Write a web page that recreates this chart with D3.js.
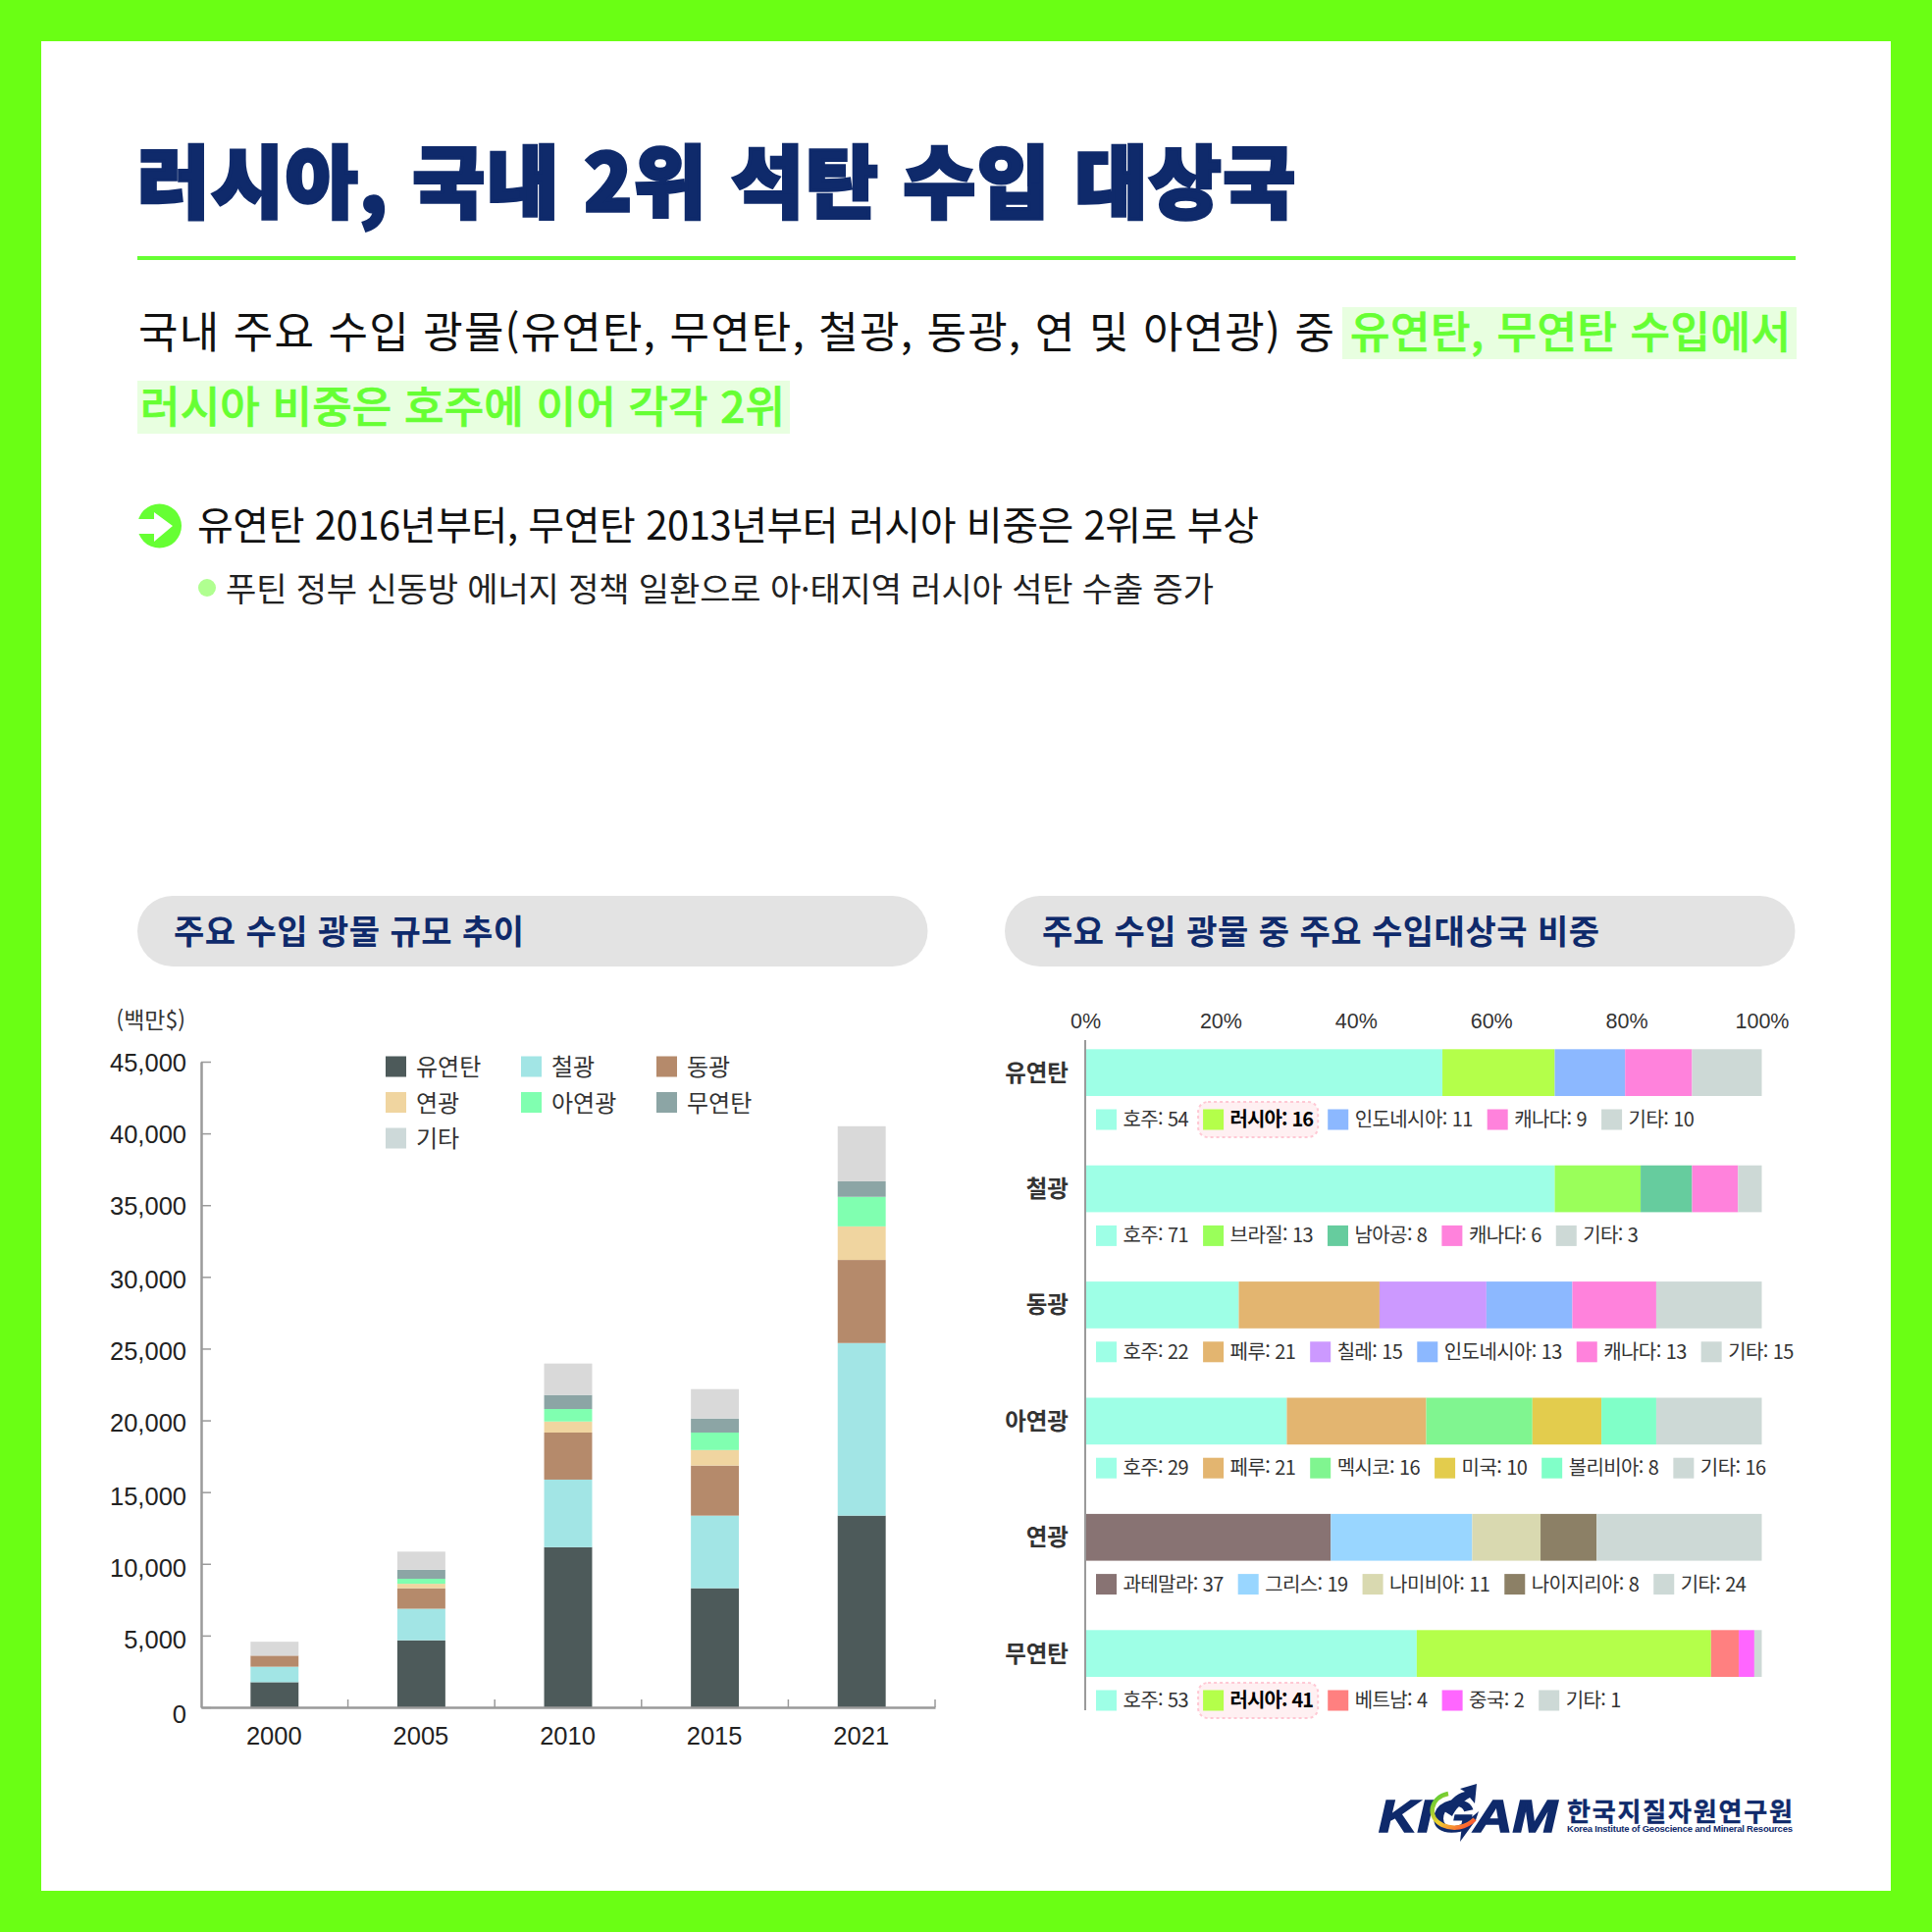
<!DOCTYPE html>
<html lang="ko"><head><meta charset="utf-8">
<script src="https://cdn.jsdelivr.net/npm/d3@7"></script>
<style>
html,body{margin:0;padding:0;background:#fff}
svg{display:block}
text{font-family:"Noto Sans CJK KR","Noto Sans",sans-serif}
</style></head><body>
<svg id="c" width="1969" height="1969"></svg>
<script>
// ---- left chart data (백만$)
const years = ["2000","2005","2010","2015","2021"];
const minerals = ["유연탄","철광","동광","연광","아연광","무연탄","기타"];
const coalBit  = [1750,4670,11160,8300,13360];
const ironOre  = [1080,2200,4710,5060,12030];
const copperOre= [770,1430,3280,3490,5790];
const leadOre  = [0,310,770,1080,2340];
const zincOre  = [0,350,870,1220,2060];
const coalAnth = [0,630,980,980,1080];
const otherOre = [970,1260,2190,2050,3840];
const seriesValues = [coalBit,ironOre,copperOre,leadOre,zincOre,coalAnth,otherOre];
const stackColors = ["#4d5a5a","#a2e5e5","#b58a6b","#f0d5a0","#80ffb0","#8ca5a5","#d9d9d9"];
const legendColors = ["#4d5a5a","#a2e5e5","#b58a6b","#f0d5a0","#80ffb0","#8ca5a5","#cdd9d9"];
const yTicks = [0,5000,10000,15000,20000,25000,30000,35000,40000,45000];

// ---- right chart data (수입 비중 %)
const rowNames = ["유연탄","철광","동광","아연광","연광","무연탄"];
const pctTicks = [0,20,40,60,80,100];
const row0Names=["호주","러시아","인도네시아","캐나다","기타"];
const row0Label=[54,16,11,9,10];
const row0Bars =[52.8,16.6,10.4,9.9,10.3];
const row1Names=["호주","브라질","남아공","캐나다","기타"];
const row1Label=[71,13,8,6,3];
const row1Bars =[69.4,12.7,7.6,6.8,3.5];
const row2Names=["호주","페루","칠레","인도네시아","캐나다","기타"];
const row2Label=[22,21,15,13,13,15];
const row2Bars =[22.7,20.8,15.8,12.7,12.4,15.6];
const row3Names=["호주","페루","멕시코","미국","볼리비아","기타"];
const row3Label=[29,21,16,10,8,16];
const row3Bars =[29.8,20.6,15.7,10.2,8.1,15.6];
const row4Names=["과테말라","그리스","나미비아","나이지리아","기타"];
const row4Label=[37,19,11,8,24];
const row4Bars =[36.3,20.9,10.1,8.3,24.4];
const row5Names=["호주","러시아","베트남","중국","기타"];
const row5Label=[53,41,4,2,1];
const row5Bars =[49,43.5,4.1,2.3,1.1];
const countryColor = {"호주":"#9effe6","러시아":"#b4ff4a","인도네시아":"#8cb8ff","캐나다":"#ff82dc","기타":"#cdd9d6",
 "브라질":"#9aff5a","남아공":"#66cc9e","페루":"#e3b570","칠레":"#cc99ff","멕시코":"#80f590","미국":"#e3cc4d",
 "볼리비아":"#80ffc8","과테말라":"#887373","그리스":"#99d6ff","나미비아":"#d9d9b0","나이지리아":"#8c8066",
 "베트남":"#ff8080","중국":"#ff66ff"};
const rows = [[row0Names,row0Label,row0Bars],[row1Names,row1Label,row1Bars],[row2Names,row2Label,row2Bars],
              [row3Names,row3Label,row3Bars],[row4Names,row4Label,row4Bars],[row5Names,row5Label,row5Bars]];

const NAVY="#0f2a6b", GREEN="#66ff33", BORDER="#6aff14";
const svg=d3.select("#c");
svg.append("rect").attr("width",1969).attr("height",1969).attr("fill",BORDER);
svg.append("rect").attr("x",42).attr("y",42).attr("width",1885).attr("height",1885).attr("fill","#fff");

function T(g,x,y,s,o={}){
  const t=g.append("text").attr("x",x).attr("y",y-1.5).text(s)
    .attr("font-size",o.size||24).attr("fill",o.fill||"#222")
    .attr("font-weight",o.weight||400).attr("text-anchor",o.anchor||"start")
    .attr("dominant-baseline","central");
  if(o.len) t.attr("textLength",o.len).attr("lengthAdjust",o.adjust||"spacing");
  if(o.font) t.style("font-family",o.font);
  if(o.style) t.style("font-style",o.style);
  if(o.ls) t.attr("letter-spacing",o.ls);
  if(o.stroke) t.attr("stroke",o.fill||"#222").attr("stroke-width",o.stroke);
  return t;
}

// ---- header
const hd=svg.append("g");
T(hd,140,181,"러시아, 국내 2위 석탄 수입 대상국",{size:80,weight:900,fill:NAVY,len:1180,stroke:3.5});
hd.append("rect").attr("x",140).attr("y",261).attr("width",1690).attr("height",4).attr("fill",GREEN);
hd.append("rect").attr("x",1368).attr("y",313).attr("width",463).attr("height",53).attr("fill","#e8ffe0");
hd.append("rect").attr("x",140).attr("y",388).attr("width",665).attr("height",54).attr("fill","#e8ffe0");
T(hd,141,337,"국내 주요 수입 광물(유연탄, 무연탄, 철광, 동광, 연 및 아연광) 중",{size:44,fill:"#111",len:1219});
T(hd,1376,337,"유연탄, 무연탄 수입에서",{size:44,weight:500,fill:GREEN,len:449,stroke:0.7});
T(hd,143,413,"러시아 비중은 호주에 이어 각각 2위",{size:44,weight:500,fill:GREEN,len:657,stroke:0.7});
hd.append("circle").attr("cx",162.5).attr("cy",536).attr("r",22.5).attr("fill",GREEN);
hd.append("path").attr("fill","#fff").attr("d","M139 529H157V522L176 536L157 552V544H139Z");
T(hd,201,534,"유연탄 2016년부터, 무연탄 2013년부터 러시아 비중은 2위로 부상",{size:40,fill:"#111",len:1082});
hd.append("circle").attr("cx",211).attr("cy",599).attr("r",9).attr("fill","#b0ff90");
T(hd,230,600,"푸틴 정부 신동방 에너지 정책 일환으로 아·태지역 러시아 석탄 수출 증가",{size:34,fill:"#222",len:1007});

// ---- section pills
[[140,"주요 수입 광물 규모 추이",177,357],[1024,"주요 수입 광물 중 주요 수입대상국 비중",1062,568]].forEach(([x,s,tx,len])=>{
  svg.append("rect").attr("x",x).attr("y",913).attr("width",805.5).attr("height",72).attr("rx",36).attr("fill","#e3e3e3");
  T(svg,tx,949,s,{size:34,weight:700,fill:NAVY,len});
});

// ---- left stacked bars
const plot={left:205,right:953,top:1082,bottom:1740};
const x=d3.scaleBand().domain(years).range([plot.left,plot.right]).paddingInner(0.673).paddingOuter(0.3365);
const y=d3.scaleLinear().domain([0,45000]).range([plot.bottom,plot.top]);
const table=years.map((yr,i)=>{const r={year:yr};minerals.forEach((m,k)=>r[m]=seriesValues[k][i]);return r;});
const stacked=d3.stack().keys(minerals)(table);
const left=svg.append("g");
left.selectAll("g.s").data(stacked).join("g").attr("class","s").attr("fill",(d,i)=>stackColors[i])
  .selectAll("rect").data(d=>d).join("rect")
  .attr("x",d=>x(d.data.year)).attr("width",x.bandwidth())
  .attr("y",d=>y(d[1])).attr("height",d=>y(d[0])-y(d[1]));

const axY=left.append("g").attr("transform",`translate(${plot.left},0)`)
  .call(d3.axisLeft(y).tickValues(yTicks).tickFormat(d3.format(",")).tickSizeInner(-10).tickSizeOuter(0).tickPadding(15));
const axX=left.append("g").attr("transform",`translate(0,${plot.bottom})`)
  .call(d3.axisBottom(x).tickSize(0).tickPadding(20));
[axY,axX].forEach(a=>{a.select(".domain").attr("stroke","#9a9a9a").attr("stroke-width",2.5);
  a.selectAll("line").attr("stroke","#9a9a9a").attr("stroke-width",1.5);
  a.selectAll("text").attr("font-size",25.5).attr("fill","#222").style("font-family",'"Liberation Sans",sans-serif');});
axY.selectAll("text").attr("dy",d=>d===0?"0.62em":(d>=35000?"0.36em":(d<=15000?"0.5em":"0.42em")));
axX.selectAll("text").attr("dx",-0.5).attr("dy","0.72em");
// category separators on the x axis
left.append("g").selectAll("line").data(years).join("line")
  .attr("x1",d=>x(d)+x.bandwidth()+x.step()*0.3365).attr("x2",d=>x(d)+x.bandwidth()+x.step()*0.3365)
  .attr("y1",plot.bottom).attr("y2",plot.bottom-8).attr("stroke","#9a9a9a").attr("stroke-width",1.5);
T(left,189,1039,"(백만$)",{size:23,anchor:"end",fill:"#333"});

// left legend
const legX=d3.scalePoint().domain([0,1,2]).range([393,669]);
const legY=d3.scalePoint().domain([0,1,2]).range([1087,1160]);
minerals.forEach((m,i)=>{
  const cx=legX(i%3), cy=legY(Math.floor(i/3));
  left.append("rect").attr("x",cx).attr("y",cy-10.5).attr("width",21).attr("height",21).attr("fill",legendColors[i]);
  T(left,cx+31,cy,m,{size:24,fill:"#333"});
});

// ---- right stacked bars
const rx=d3.scaleLinear().domain([0,100]).range([1106,1795.5]);
const ry=d3.scaleBand().domain(rowNames).range([1069.3,1069.3+5*118.4+47.7]).paddingInner(1-47.7/118.4).paddingOuter(0);
const right=svg.append("g");
rows.forEach(([names,labels,bars],ri)=>{
  const name=rowNames[ri], top=ry(name), g=right.append("g");
  let cum=0;
  bars.forEach((v,k)=>{
    g.append("rect").attr("x",rx(cum)).attr("width",rx(cum+v)-rx(cum))
     .attr("y",top).attr("height",ry.bandwidth()).attr("fill",countryColor[names[k]]);
    cum+=v;
  });
  T(g,1089,top+ry.bandwidth()/2,name,{size:23.5,weight:700,anchor:"end",fill:"#333"});
  // legend row, flowed item after item
  let lx=1117; const midY=top+ry.bandwidth()+24;
  names.forEach((n,k)=>{
    const hot=n==="러시아";
    const it=g.append("g");
    const hl=hot?it.append("rect").attr("rx",10).attr("fill","#fff0f2").attr("stroke","#ffc8d4").attr("stroke-width",2).attr("stroke-dasharray","3 3"):null;
    it.append("rect").attr("x",lx).attr("y",midY-10.5).attr("width",21).attr("height",21).attr("fill",countryColor[n]);
    const tx=T(it,lx+27.5,midY,`${n}: ${labels[k]}`,{size:20,fill:hot?"#000":"#333",weight:hot?700:400,ls:hot?-0.9:-0.6});
    const w=tx.node().getComputedTextLength();
    if(hot) hl.attr("x",lx-5).attr("y",midY-18).attr("width",27.5+w+10).attr("height",36);
    lx+=27.5+w+15;
  });
});
const axP=right.append("g").attr("transform","translate(0,1060)")
  .call(d3.axisTop(rx).tickValues(pctTicks).tickFormat(d=>d+"%").tickSize(0).tickPadding(12));
axP.select(".domain").remove();
axP.selectAll("text").attr("font-size",21.5).attr("fill","#333").style("font-family",'"Liberation Sans",sans-serif');
right.append("line").attr("x1",1106).attr("x2",1106).attr("y1",1060).attr("y2",1743).attr("stroke","#9a9a9a").attr("stroke-width",2);

// ---- logo
const lg=svg.append("g");
T(lg,1405,1851.5,"KIGAM",{size:47,weight:700,fill:NAVY,font:'"Liberation Sans",sans-serif',style:"italic",len:182,adjust:"spacingAndGlyphs",stroke:1.5});
lg.append("path").attr("fill",NAVY).attr("d","M1505 1818L1503 1838L1498 1832C1490 1836 1482 1846 1480 1851L1472 1846C1476 1836 1484 1828 1493 1826L1488 1823Z");
lg.append("path").attr("fill",NAVY).attr("d","M1488 1877L1490 1860L1507 1846L1504 1855Z");
const gr=svg.append("defs").append("linearGradient").attr("id","lgr").attr("x1",0).attr("y1",0).attr("x2",1).attr("y2",1);
[["0%","#44cc33"],["50%","#f0d030"],["100%","#ff4030"]].forEach(([o,c])=>gr.append("stop").attr("offset",o).attr("stop-color",c));
lg.append("path").attr("fill","none").attr("stroke","url(#lgr)").attr("stroke-width",4.5).attr("d","M1476 1828C1457 1832 1454 1852 1470 1860C1481 1865 1494 1863 1503 1854");
T(lg,1597,1846,"한국지질자원연구원",{size:26,weight:700,fill:NAVY,len:230,stroke:0.4});
T(lg,1597,1865,"Korea Institute of Geoscience and Mineral Resources",{size:9.5,weight:700,fill:NAVY,font:'"Liberation Sans",sans-serif',len:230});
</script>
</body></html>
